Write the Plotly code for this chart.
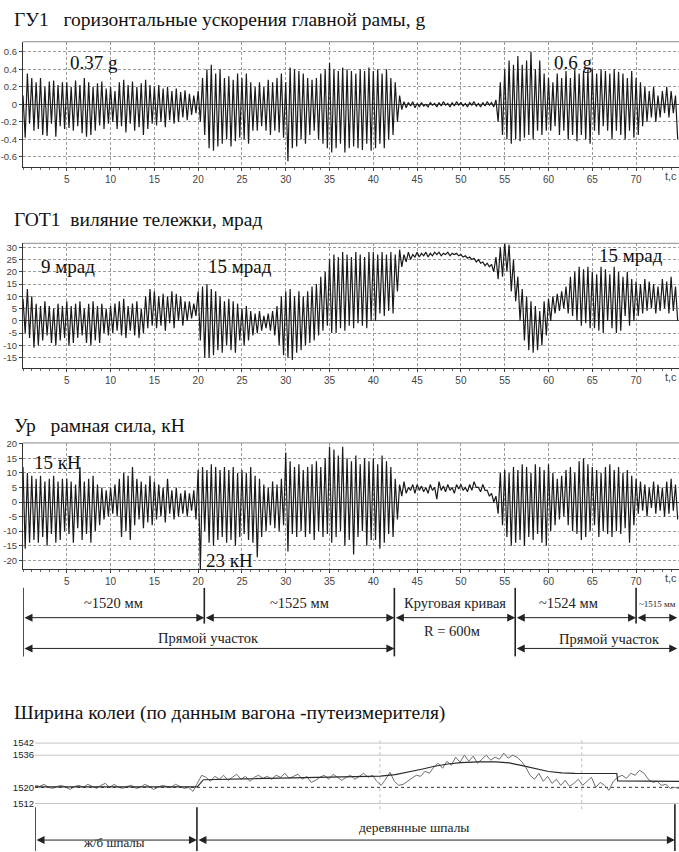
import numpy as np
import plotly.graph_objects as go

# ---------------------------------------------------------------- data
HALF_PERIOD = 0.25          # s between successive extremes of the records
x_ticks = [5, 10, 15, 20, 25, 30, 35, 40, 45, 50, 55, 60, 65, 70]

# ГУ1 – horizontal acceleration of the main frame, g (5 s per row)
gu1 = [
    0.10, -0.38, 0.35, -0.22, 0.30, -0.30, 0.25, -0.28, 0.30, -0.35, 0.20, -0.36, 0.26, -0.22, 0.27, -0.37, 0.22, -0.25, 0.25, -0.28,
    0.25, -0.27, 0.20, -0.30, 0.27, -0.25, 0.22, -0.33, 0.30, -0.37, 0.25, -0.35, 0.20, -0.30, 0.24, -0.24, 0.26, -0.28, 0.18, -0.22,
    0.20, -0.20, 0.15, -0.28, 0.25, -0.25, 0.28, -0.32, 0.22, -0.22, 0.26, -0.30, 0.20, -0.26, 0.24, -0.35, 0.28, -0.28, 0.22, -0.22,
    0.20, -0.24, 0.22, -0.20, 0.18, -0.26, 0.20, -0.18, 0.15, -0.22, 0.18, -0.20, 0.14, -0.15, 0.16, -0.18, 0.12, -0.12, 0.10, -0.10,
    0.15, -0.20, 0.30, -0.35, 0.40, -0.50, 0.45, -0.53, 0.35, -0.48, 0.40, -0.45, 0.30, -0.40, 0.32, -0.48, 0.28, -0.42, 0.35, -0.38,
    0.30, -0.40, 0.35, -0.45, 0.25, -0.30, 0.20, -0.30, 0.25, -0.25, 0.20, -0.30, 0.28, -0.35, 0.25, -0.30, 0.30, -0.32, 0.35, -0.38,
    0.25, -0.65, 0.42, -0.50, 0.40, -0.48, 0.38, -0.40, 0.35, -0.45, 0.30, -0.35, 0.28, -0.30, 0.30, -0.40, 0.35, -0.45, 0.40, -0.50,
    0.47, -0.55, 0.40, -0.50, 0.38, -0.45, 0.42, -0.55, 0.40, -0.50, 0.38, -0.48, 0.35, -0.50, 0.40, -0.52, 0.38, -0.45, 0.42, -0.53,
    0.38, -0.50, 0.40, -0.45, 0.35, -0.50, 0.40, -0.40, 0.30, -0.35, 0.25, -0.20, 0.10, -0.06, 0.03, -0.04, 0.02, -0.02, 0.03, -0.04,
    0.01, -0.03, 0.02, -0.02, 0.00, -0.03, 0.02, -0.01, 0.01, -0.03, 0.02, -0.02, 0.03, -0.01, 0.01, -0.03, 0.02, -0.02, 0.03, -0.01,
    0.02, -0.02, 0.01, -0.03, 0.02, -0.01, 0.03, -0.02, 0.01, -0.03, 0.02, -0.02, 0.03, -0.01, 0.02, -0.03, 0.05, -0.20, 0.25, -0.35,
    0.40, -0.40, 0.50, -0.45, 0.45, -0.40, 0.55, -0.42, 0.45, -0.38, 0.50, -0.35, 0.60, -0.40, 0.40, -0.30, 0.50, -0.35, 0.35, -0.30,
    0.30, -0.30, 0.25, -0.25, 0.35, -0.35, 0.30, -0.30, 0.38, -0.40, 0.30, -0.35, 0.40, -0.42, 0.35, -0.35, 0.38, -0.40, 0.40, -0.45,
    0.40, -0.30, 0.35, -0.35, 0.40, -0.25, 0.38, -0.30, 0.35, -0.40, 0.40, -0.30, 0.37, -0.35, 0.35, -0.40, 0.30, -0.30, 0.38, -0.38,
    0.30, -0.35, 0.25, -0.25, 0.20, -0.20, 0.15, -0.15, 0.20, -0.20, 0.10, -0.15, 0.15, -0.10, 0.20, -0.15, 0.15, -0.10, 0.10, -0.40,
]

# ГОТ1 – bogie yaw, mrad
got1 = [
    9, -5, 13, -7, 10, -11, 7, -10, 6, -8, 8, -6, 6, -9, 5, -10, 7, -8, 6, -7,
    8, -10, 6, -9, 7, -7, 8, -6, 5, -9, 7, -10, 8, -8, 6, -9, 7, -5, 5, -6,
    6, -5, 7, -4, 8, -6, 9, -7, 6, -4, 7, -6, 8, -7, 5, -5, 10, -3, 13, -2,
    12, -3, 10, -2, 11, -4, 10, -1, 12, -3, 11, 0, 10, -2, 8, 0, 8, 1, 7, 2,
    12, -8, 14, -15, 15, -15, 13, -14, 12, -12, 10, -13, 8, -10, 9, -12, 8, -13, 7, -8,
    5, -10, 6, -8, 4, -6, 3, -5, 4, -4, 2, -3, 3, -4, 4, -6, 6, -10, 10, -14,
    12, -15, 13, -16, 10, -13, 12, -12, 10, -10, 12, -9, 14, -8, 15, -6, 18, -4, 20, -2,
    25, -5, 27, -5, 26, -3, 28, -4, 27, -2, 26, -3, 28, -1, 27, -2, 26, -3, 28, 0,
    28, 0, 27, 3, 28, 2, 27, 4, 28, 3, 27, 12, 29, 22, 27, 24, 28, 25, 27, 26,
    28, 26, 27.5, 26.5, 28, 26, 27.5, 26.5, 28, 27, 28, 26.5, 27.5, 27, 28, 26.5, 27.5, 27, 27.5, 26.5,
    27, 26, 26.5, 25.5, 26, 25, 25.5, 24, 25, 23.5, 24, 22.5, 23.5, 22, 23, 20, 26, 17, 30, 18,
    32, 20, 31, 12, 25, 8, 18, 0, 13, -8, 10, -12, 8, -13, 6, -12, 4, -10, 8, -6,
    9, 0, 10, 3, 11, 4, 12, 5, 14, 3, 18, 2, 20, 0, 22, -2, 21, -1, 22, -3,
    20, -3, 19, -4, 22, -5, 21, 0, 19, -3, 22, -5, 20, -4, 18, 2, 20, -2, 17, 0,
    16, 2, 15, 3, 17, 4, 16, 5, 15, 3, 14, 4, 17, 5, 16, 3, 18, 4, 14, 0,
]

# Ур – frame force, kN
yp = [
    12, -16, 10, -14, 9, -13, 8, -14, 9, -12, 7, -15, 8, -11, 9, -14, 7, -13, 8, -10,
    8, -11, 7, -14, 6, -9, 12, -13, 7, -11, 8, -14, 9, -10, 6, -8, 5, -6, 4, -5,
    5, -4, 6, -5, 8, -12, 10, -10, 9, -13, 12, -8, 8, -6, 7, -9, 6, -7, 9, -8,
    7, -6, 6, -5, 5, -7, 8, -4, 4, -6, 5, -5, 3, -4, 4, -5, 3, -3, 4, -6,
    11, -23, 12, -10, 11, -14, 13, -15, 12, -13, 11, -12, 12, -14, 11, -13, 12, -15, 10, -12,
    11, -11, 10, -13, 12, -14, 9, -19, 8, -12, 6, -10, 5, -8, 7, -9, 6, -10, 8, -8,
    17, -17, 14, -11, 12, -12, 13, -10, 11, -12, 12, -11, 13, -13, 14, -10, 12, -12, 15, -11,
    19, -14, 18, -12, 16, -10, 19, -15, 15, -13, 14, -18, 16, -12, 13, -10, 15, -15, 14, -13,
    15, -13, 13, -16, 16, -14, 14, -11, 12, -12, 8, -6, 6, 2, 7, 3, 5, 4, 6, 3,
    6, 4, 5.5, 3.5, 5, 3, 6, 4, 5, 1, 7, 4, 5.5, 3.5, 6, 4, 5, 3, 6, 4.5,
    6, 4, 5, 3.5, 6, 4, 7, 5, 5, 3.5, 6, 4, 4, 2, 3, 0, 2, -4, 10, -8,
    11, -12, 10, -15, 12, -14, 11, -13, 13, -15, 12, -12, 10, -13, 13, -11, 12, -14, 11, -15,
    13, -10, 10, -8, 8, -6, 9, -5, 11, -8, 12, -10, 10, -11, 14, -13, 15, -12, 13, -10,
    12, -8, 11, -12, 10, -10, 12, -11, 13, -12, 11, -10, 12, -11, 10, -9, 11, -14, 9, -8,
    8, -4, 7, -3, 6, -5, 5, -2, 7, -4, 6, -3, 5, -5, 7, -4, 8, -3, 6, -6,
]

# Track gauge from the track-recording car, mm
GAUGE_T0, GAUGE_STEP = 1.4, 0.5
gauge = [
    1521, 1520.5, 1521.5, 1520, 1519.5, 1520.5, 1521, 1520, 1519, 1520.5,
    1521, 1520, 1521.5, 1520.5, 1519.5, 1521, 1522, 1520, 1521.5, 1520,
    1519.5, 1520.5, 1521, 1519.5, 1520, 1521.5, 1520.5, 1519, 1520, 1521,
    1520.5, 1520, 1521.5, 1520.5, 1519.5, 1520, 1518, 1522, 1526, 1525,
    1523, 1525.5, 1524, 1526, 1523.5, 1525, 1526.5, 1524, 1525.5, 1523,
    1525, 1526, 1524.5, 1525.5, 1524, 1526, 1525, 1527, 1524.5, 1525.5,
    1526.5, 1524, 1525.5, 1522.5, 1523.5, 1525, 1526, 1524, 1526.5, 1525,
    1523.5, 1525, 1526, 1524, 1525.5, 1527, 1525, 1526, 1523, 1521,
    1524, 1527.5, 1523, 1521, 1521.5, 1523, 1524.5, 1526, 1525.5, 1528,
    1527, 1530, 1532, 1529.5, 1533, 1531, 1535, 1532.5, 1536, 1533,
    1535.5, 1532, 1534, 1536, 1533.5, 1535, 1534, 1537, 1534.5, 1536,
    1535, 1533, 1530, 1526, 1524, 1527, 1523, 1525.5, 1522, 1524,
    1521, 1523.5, 1520.5, 1522, 1524, 1521, 1523, 1525, 1520, 1522.5,
    1521, 1518.5, 1523, 1525, 1526, 1524.5, 1527, 1526, 1528.5, 1527,
    1524, 1522.5, 1523, 1521, 1521.5, 1519.5, 1520, 1519.5,
]
gauge_mean_t = [1.37, 19.9, 20.6, 40.8, 42.5, 44.0, 45.5, 47.0, 48.5, 50.0, 52.0,
                54.0, 55.5, 57.0, 58.5, 60.0, 61.5, 63.0, 67.8, 67.9, 74.9]
gauge_mean = [1520.2, 1520.2, 1523.8, 1525.6, 1526.3, 1527.5, 1529.0, 1530.5, 1531.6,
              1532.3, 1532.7, 1532.7, 1532.2, 1530.8, 1529.2, 1527.9, 1527.2, 1527.0,
              1526.9, 1523.2, 1523.0]
GAUGE_NOMINAL = 1520
gauge_ticks = [1512, 1520, 1536, 1542]

# Track sections along the run, s
section_bounds = [0, 20.7, 42.4, 56.2, 70.0, 74.7]
section_gauge = ["~1520 мм", "~1525 мм", "Круговая кривая", "~1524 мм", "~1515 мм"]
sleeper_bounds = [1.37, 19.86, 74.43]
sleeper_labels = ["ж/б шпалы", "деревянные шпалы"]
km_marks = [40.75, 63.8]

# ---------------------------------------------------------------- layout helpers
W, H = 679, 852
SERIF = "Liberation Serif, Times New Roman, serif"
NARROW = "Liberation Sans Narrow, Arial Narrow, Liberation Sans, Arial, sans-serif"
SANS = "Liberation Sans, Arial, sans-serif"
INK = "#1a1a1a"


def fx(px):
    return px / W


def fy(py):
    return 1 - py / H


def fmt(v):
    return f"{v:g}"


fig = go.Figure()

panels = [
    dict(vals=gu1, top=37, bot=163, rng=[-0.713, 0.713],
         ticks=[-0.6, -0.4, -0.2, 0, 0.2, 0.4, 0.6]),
    dict(vals=got1, top=240, bot=366, rng=[-19.4, 31.6],
         ticks=[-15, -10, -5, 0, 5, 10, 15, 20, 25, 30]),
    dict(vals=yp, top=441, bot=568, rng=[-23.0, 20.3],
         ticks=[-20, -15, -10, -5, 0, 5, 10, 15, 20]),
]

shapes = []
annotations = []

for i, p in enumerate(panels, start=1):
    xa = "x" if i == 1 else f"x{i}"
    ya = "y" if i == 1 else f"y{i}"
    t = np.arange(len(p["vals"])) * HALF_PERIOD
    fig.add_trace(go.Scatter(x=t, y=p["vals"], mode="lines", xaxis=xa, yaxis=ya,
                             line=dict(color=INK, width=1.2), showlegend=False,
                             hoverinfo="skip"))
    fig.layout[f"xaxis{'' if i == 1 else i}"] = dict(
        domain=[fx(23), 1], anchor=ya, range=[0, 74.9],
        tickmode="array", tickvals=x_ticks,
        ticks="outside", ticklen=3, tickcolor="#444",
        showline=True, linecolor="#333", linewidth=1,
        showgrid=True, gridcolor="#9c9c9c", griddash="3px,2px", gridwidth=1,
        zeroline=False,
        tickfont=dict(family=NARROW, size=10, color="#444"),
        minor=dict(dtick=1, tick0=0, ticks="outside", ticklen=2, tickcolor="#666",
                   showgrid=False),
        fixedrange=True)
    fig.layout[f"yaxis{'' if i == 1 else i}"] = dict(
        domain=[fy(p["bot"]), fy(p["top"])], anchor=xa, range=p["rng"],
        tickmode="array", tickvals=p["ticks"],
        ticktext=[fmt(v) for v in p["ticks"]],
        ticks="outside", ticklen=3, tickcolor="#444",
        showline=True, linecolor="#333", linewidth=1.2,
        showgrid=True, gridcolor="#9c9c9c", griddash="3px,2px", gridwidth=1,
        zeroline=True, zerolinecolor="#555", zerolinewidth=1,
        tickfont=dict(family=NARROW, size=9.5, color="#444"),
        fixedrange=True)
    # upper frame of the panel
    shapes.append(dict(type="line", xref="paper", yref="paper",
                       x0=fx(23), x1=1, y0=fy(p["top"]), y1=fy(p["top"]),
                       line=dict(color="#8a8a8a", width=1)))
    # time unit at the right end of the axis
    annotations.append(dict(text="t,c", xref="paper", yref="paper",
                            x=1, y=fy(p["bot"] + 9), xanchor="right",
                            yanchor="middle", showarrow=False,
                            font=dict(family=NARROW, size=11, color="#444")))

# ---------------------------------------------------------------- gauge panel
gt = GAUGE_T0 + np.arange(len(gauge)) * GAUGE_STEP
fig.add_trace(go.Scatter(x=gt, y=gauge, mode="lines", xaxis="x4", yaxis="y4",
                         line=dict(color="#6e6e6e", width=1), showlegend=False,
                         hoverinfo="skip"))
fig.add_trace(go.Scatter(x=gauge_mean_t, y=gauge_mean, mode="lines", xaxis="x4",
                         yaxis="y4", line=dict(color="#2a2a2a", width=1.2),
                         showlegend=False, hoverinfo="skip"))
fig.layout.xaxis4 = dict(domain=[fx(35), 1], anchor="y4", range=[1.37, 74.9],
                         visible=False, fixedrange=True)
fig.layout.yaxis4 = dict(domain=[fy(808), fy(735)], anchor="x4",
                         range=[1510.1, 1546.1], tickmode="array",
                         tickvals=gauge_ticks, ticktext=[str(v) for v in gauge_ticks],
                         showgrid=False, zeroline=False, showline=False, ticks="",
                         tickfont=dict(family=SANS, size=9.5, color="#222"),
                         fixedrange=True)
for v in gauge_ticks:
    if v == GAUGE_NOMINAL:
        shapes.append(dict(type="line", xref="x4", yref="y4", x0=1.37, x1=74.9,
                           y0=v, y1=v, layer="below",
                           line=dict(color="#333", width=1, dash="dot")))
    else:
        shapes.append(dict(type="line", xref="x4", yref="y4", x0=1.37, x1=74.9,
                           y0=v, y1=v, layer="below",
                           line=dict(color="#c4c4c4", width=1)))
for k in km_marks:
    shapes.append(dict(type="line", xref="x4", yref="paper", x0=k, x1=k,
                       y0=fy(810), y1=fy(740), layer="below",
                       line=dict(color="#bdbdbd", width=1, dash="dot")))


# ---------------------------------------------------------------- section scheme
def vline(xref, x, py0, py1, width=1.6):
    shapes.append(dict(type="line", xref=xref, yref="paper", x0=x, x1=x,
                       y0=fy(py0), y1=fy(py1), line=dict(color="#222", width=width)))


def double_arrow(xref, x0, x1, py):
    annotations.append(dict(text="", xref=xref, yref="paper", axref=xref,
                            ayref="pixel", x=x1, y=fy(py), ax=x0, ay=0,
                            showarrow=True, arrowside="end+start", arrowhead=2,
                            startarrowhead=2, arrowsize=1.6, startarrowsize=1.6,
                            arrowwidth=1, arrowcolor="#222", standoff=0,
                            startstandoff=0))


def label(xref, x, py, text, size=14.5, family=SERIF):
    annotations.append(dict(text=text, xref=xref, yref="paper", x=x, y=fy(py),
                            xanchor="center", yanchor="middle", showarrow=False,
                            font=dict(family=family, size=size, color="#222")))


b = section_bounds
long_marks = {0, 2, 3}
for j, xb in enumerate(b[:-1]):
    vline("x3", xb, 587, 656 if j in long_marks else 623)
for j in range(len(b) - 1):
    double_arrow("x3", b[j], b[j + 1], 617)
label_x = [(b[0] + b[1]) / 2, (b[1] + b[2]) / 2, (b[2] + b[3]) / 2,
           (b[3] + b[4]) / 2 - 0.8, (b[4] + b[5]) / 2 + 0.1]
for j, txt in enumerate(section_gauge):
    if j == 4:
        label("x3", label_x[j], 603, txt, size=9, family=SERIF)
    else:
        label("x3", label_x[j], 602, txt)
double_arrow("x3", b[0], b[2], 648)
double_arrow("x3", b[3], b[5], 648)
label("x3", (b[0] + b[2]) / 2, 637, "Прямой участок")
label("x3", (b[2] + b[3]) / 2 - 0.3, 630, "R = 600м")
label("x3", (b[3] + b[5]) / 2 + 1.5, 638, "Прямой участок")

s = sleeper_bounds
vline("x4", s[0], 808, 852)
vline("x4", s[1], 808, 852)
vline("x4", s[2], 805, 852)
double_arrow("x4", s[0], s[1], 841)
double_arrow("x4", s[1], s[2], 841)
label("x4", (s[0] + s[1]) / 2 - 0.2, 843, sleeper_labels[0], size=13)
label("x4", 44.6, 828, sleeper_labels[1], size=13.5)

# ---------------------------------------------------------------- titles and notes
titles = [
    (15, "ГУ1   горизонтальные ускорения главной рамы, g"),
    (216, "ГОТ1  виляние тележки, мрад"),
    (423, "Ур   рамная сила, кН"),
    (713, "Ширина колеи (по данным вагона -путеизмерителя)"),
]
for py, txt in titles:
    annotations.append(dict(text=txt, xref="paper", yref="paper", x=fx(12), y=fy(py),
                            xanchor="left", yanchor="middle", showarrow=False,
                            font=dict(family=SERIF, size=19.5, color="#111")))

notes = [
    ("x", 8.1, 0.48, "0.37 g"),
    ("x", 62.8, 0.48, "0.6 g"),
    ("x2", 5.1, 22, "9 мрад"),
    ("x2", 24.8, 22, "15 мрад"),
    ("x2", 69.4, 26.7, "15 мрад"),
    ("x3", 3.9, 13.6, "15 кН"),
    ("x3", 23.6, -20.2, "23 кН"),
]
for xr, x, y, txt in notes:
    yr = xr.replace("x", "y")
    annotations.append(dict(text=txt, xref=xr, yref=yr, x=x, y=y, xanchor="center",
                            yanchor="middle", showarrow=False,
                            font=dict(family=SERIF, size=19, color="#111")))

fig.update_layout(width=W, height=H, margin=dict(l=0, r=0, t=0, b=0),
                  paper_bgcolor="white", plot_bgcolor="white",
                  shapes=shapes, annotations=annotations, showlegend=False)

fig.write_html("out.html")
